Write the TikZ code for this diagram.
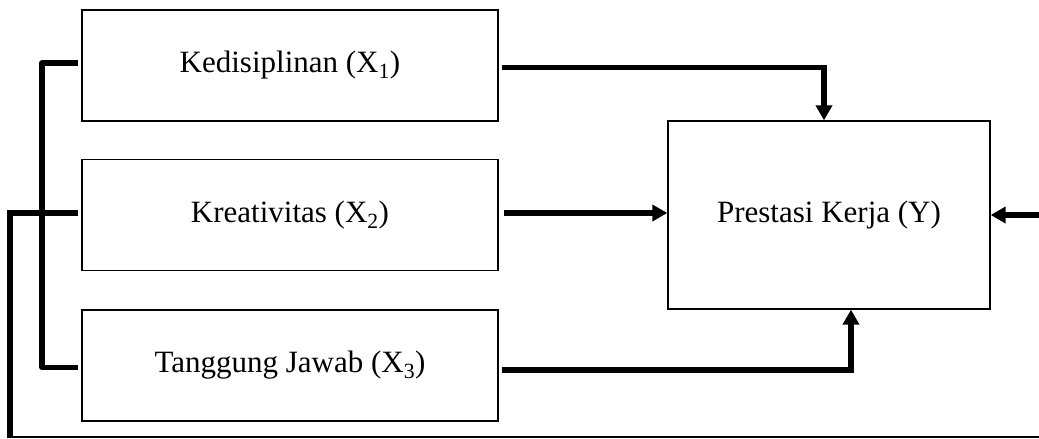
\documentclass[tikz,border=0pt]{standalone}
\usepackage{fontspec}
\setmainfont{Liberation Serif}
\usetikzlibrary{arrows.meta,calc}
\begin{document}
\begin{tikzpicture}[x=1pt,y=1pt,
  box/.style={draw,line width=1.3pt,minimum width=416pt,minimum height=111pt,inner sep=0pt,font=\fontsize{31}{36}\selectfont},
  ybox/.style={draw,line width=1.3pt,minimum width=322pt,minimum height=188pt,inner sep=0pt,font=\fontsize{31}{36}\selectfont},
  conn/.style={line width=5.5pt},
  arr/.style={conn,-{Triangle[length=15pt,width=16pt]}},
  thinconn/.style={line width=2.5pt}]
\useasboundingbox (0,0) rectangle (1039,-439);
\node[box] (x1) at (290,-65.5) {Kedisiplinan (X\textsubscript{1})};
\node[box] (x2) at (290,-215) {Kreativitas (X\textsubscript{2})};
\node[box] (x3) at (290,-365.5) {Tanggung Jawab (X\textsubscript{3})};
\node[ybox] (y) at (829,-215) {Prestasi Kerja (Y)};
\coordinate (lb) at (42,0);
\coordinate (bl) at (10,-437);
\coordinate (br) at (1039,-437);
\coordinate (rt) at (1039,-215);
\coordinate (x2s) at ([xshift=5pt,yshift=2pt]x2.east);
\coordinate (x1w) at ([xshift=-3pt,yshift=2.5pt]x1.west);
\coordinate (x3w) at ([xshift=-3pt,yshift=-2pt]x3.west);
% connectors to Y
\draw[arr] ([xshift=3pt,yshift=-2pt]x1.east) -| ([xshift=-5pt]y.north);
\draw[arr] (x2s) -- (y.west |- x2s);
\draw[arr] ([xshift=3pt,yshift=-4.5pt]x3.east) -| ([xshift=22pt]y.south);
\draw[arr] (rt) -- (y.east);
% left bracket
\draw[conn,line join=round] (x1w) -| (lb |- x3w) -- (x3w);
\draw[conn] ([xshift=-3pt,yshift=2pt]x2.west) -| ([yshift=-1pt]bl);
\draw[thinconn] ([xshift=-2.75pt]bl) -- (br);
\end{tikzpicture}
\end{document}
